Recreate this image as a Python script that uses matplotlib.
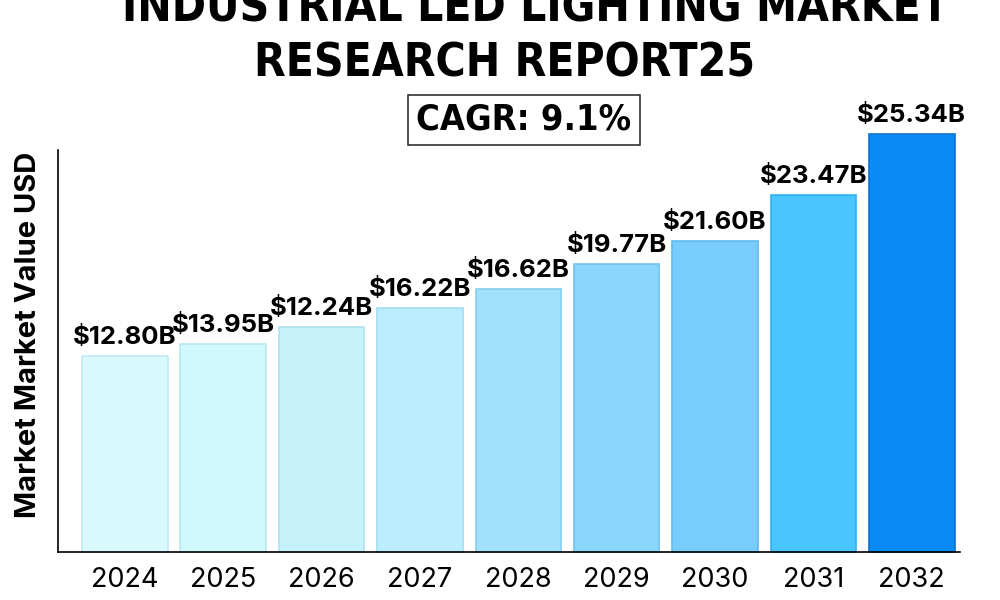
import matplotlib
matplotlib.use('Agg')
import matplotlib.pyplot as plt
from matplotlib import font_manager
import numpy as np

years = ['2024', '2025', '2026', '2027', '2028', '2029', '2030', '2031', '2032']
# bar heights as drawn in the picture (USD billions)
bar_values = [11.88, 12.61, 13.64, 14.79, 15.94, 17.46, 18.85, 21.64, 25.34]
value_labels = ['$12.80B', '$13.95B', '$12.24B', '$16.22B', '$16.62B',
                '$19.77B', '$21.60B', '$23.47B', '$25.34B']
bar_colors = ['#d9f9fc', '#cff7fc', '#c6f2fc', '#bcedfc', '#a2e0fb',
              '#8ad6fc', '#79cdfc', '#4ac5fd', '#0a8bf5']
edge_colors = ['#bfeaf2', '#b6e8f2', '#aee3f2', '#a2dcf2', '#86cdf0',
               '#6ec4f0', '#5fbaf0', '#30b0f0', '#0a74d0']

title_lines = ['INDUSTRIAL LED LIGHTING MARKET', 'RESEARCH REPORT25']
cagr_text = 'CAGR: 9.1%'
y_label = 'Market Market Value USD'

TEXT_FONT = ['Inter', 'DejaVu Sans']


def narrow_bold_font():
    # look for a condensed bold face, fall back to Roboto
    for f in font_manager.fontManager.ttflist:
        name = f.fname.lower()
        if ('narrow' in name or 'condensed' in name) and 'bold' in name and 'oblique' not in name \
                and 'italic' not in name:
            return font_manager.FontProperties(fname=f.fname)
    return font_manager.FontProperties(family='Roboto', weight='bold')


title_font = narrow_bold_font()

fig = plt.figure(figsize=(10, 6), dpi=100)
ax = fig.add_axes([0.058, 0.08, 0.902, 0.67])

x = np.arange(len(years))
bars = ax.bar(x, bar_values, width=0.87, color=bar_colors,
              edgecolor=edge_colors, linewidth=1.2, clip_on=False, zorder=2)

for rect, label in zip(bars, value_labels):
    ax.annotate(label, (rect.get_x() + rect.get_width() / 2, rect.get_height()),
                xytext=(0, 5), textcoords='offset points', ha='center', va='bottom',
                fontsize=18.5, fontweight='bold', family=TEXT_FONT,
                annotation_clip=False)

ax.set_xlim(-0.68, 8.49)
ax.set_ylim(0, 24.37)
ax.set_xticks(x)
ax.set_xticklabels(years, fontsize=19.5, family=TEXT_FONT)
ax.tick_params(axis='x', length=0, pad=11)
ax.set_yticks([])
ax.set_ylabel(y_label, fontsize=21, fontweight='bold', family=TEXT_FONT)
ax.yaxis.set_label_coords(-0.018, 0.54)
for side in ('top', 'right'):
    ax.spines[side].set_visible(False)
for side in ('left', 'bottom'):
    ax.spines[side].set_linewidth(1.2)

fig.text(0.535, 0.985, title_lines[0], ha='center', va='center',
         fontproperties=title_font, fontsize=33)
fig.text(0.505, 0.893, title_lines[1], ha='center', va='center',
         fontproperties=title_font, fontsize=33)
fig.text(0.524, 0.80, cagr_text, ha='center', va='center',
         fontproperties=title_font, fontsize=26,
         bbox=dict(boxstyle='square,pad=0.22', facecolor='white', edgecolor='#333333', linewidth=1.2))

fig.savefig('out.png', dpi=100)
